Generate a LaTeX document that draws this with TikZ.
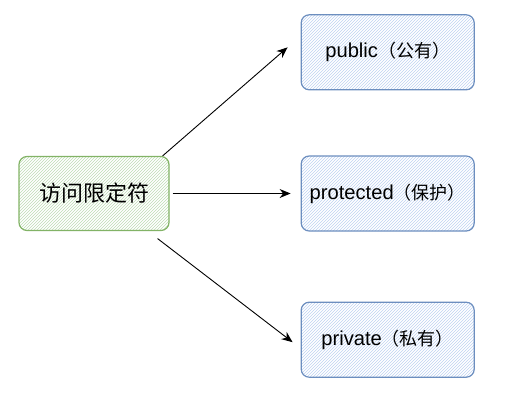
\documentclass[tikz,border=0pt]{standalone}
\usepackage{fontspec}
\setmainfont{Liberation Sans}[Scale=1.12]
\newfontfamily\cjk{Noto Sans CJK SC}
\usetikzlibrary{positioning,patterns,arrows.meta}

\definecolor{greenline}{RGB}{130,179,102}
\definecolor{greenfill}{RGB}{190,220,180}
\definecolor{blueline}{RGB}{108,142,191}
\definecolor{bluefill}{RGB}{190,210,240}

\begin{document}
\begin{tikzpicture}[x=1pt,y=1pt,
  box/.style={draw, rounded corners=8pt, line width=1.2pt, inner sep=0pt},
  accessbox/.style={box, draw=greenline, pattern=north east lines, pattern color=greenfill, minimum width=150pt, minimum height=74pt, font=\fontsize{22}{24}\selectfont},
  kindbox/.style={box, draw=blueline, pattern=north east lines, pattern color=bluefill, minimum width=173pt, minimum height=75pt, font=\fontsize{18}{20}\selectfont},
  arrow/.style={-{Stealth[length=11pt,width=9pt]}, line width=0.9pt}]
\useasboundingbox (0,0) rectangle (530,-402);

%Shape: Rounded Rect
\node [accessbox] (access) at (94,-193.5) {{\cjk 访问限定符}};
%Shape: Rounded Rect
\node [kindbox, right=131pt of access] (protected) {protected{\cjk （保护）}};
%Shape: Rounded Rect
\node [kindbox, above=65pt of protected] (public) {public{\cjk （公有）}};
%Shape: Rounded Rect
\node [kindbox, below=70pt of protected] (private) {private{\cjk （私有）}};

%Straight Lines
\draw [arrow] ([xshift=-7pt]access.north east) -- ([shift={(-13pt,5pt)}]public.west);
%Straight Lines
\draw [arrow] ([xshift=3pt]access.east) -- ([xshift=-10pt]access.east -| protected.west);
%Straight Lines
\draw [arrow] ([shift={(-12pt,-7.5pt)}]access.south east) -- ([shift={(-8pt,-2.5pt)}]private.west);

\end{tikzpicture}
\end{document}
